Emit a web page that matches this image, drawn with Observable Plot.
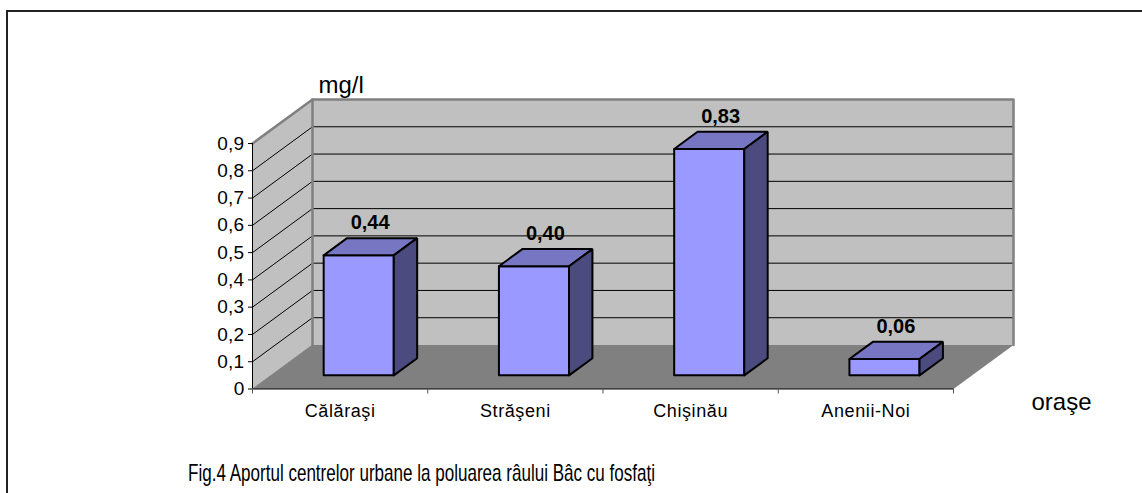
<!DOCTYPE html>
<html>
<head>
<meta charset="utf-8">
<script src="https://cdn.jsdelivr.net/npm/d3@7"></script>
<script src="https://cdn.jsdelivr.net/npm/@observablehq/plot@0.6"></script>
<style>
  html, body { margin: 0; padding: 0; background: #fff; width: 1142px; height: 493px; overflow: hidden; }
  #frame { position: absolute; left: 6px; top: 10px; width: 1200px; height: 600px; border-left: 2px solid #222; border-top: 2px solid #222; }
  #chart { position: absolute; left: 0; top: 0; }
  #chart g[font-size="18"] text { letter-spacing: 0.6px; }
  #chart g[font-size="19"] text { letter-spacing: 0.3px; }
  #caption { position: absolute; left: 188px; top: 459px; font-family: "Liberation Sans", Arial, sans-serif; font-size: 24px; color: #000; white-space: nowrap; transform-origin: left top; transform: scaleX(0.71); }
</style>
</head>
<body>
<div id="frame"></div>
<div id="chart"></div>
<div id="caption">Fig.4 Aportul centrelor urbane la poluarea râului Bâc cu fosfaţi</div>
<script>
// ---- data ----
const categories = ["Călăraşi", "Străşeni", "Chişinău", "Anenii-Noi"];
const values = [0.44, 0.40, 0.83, 0.06];
const valueLabels = ["0,44", "0,40", "0,83", "0,06"];
const yTicks = [0, 0.1, 0.2, 0.3, 0.4, 0.5, 0.6, 0.7, 0.8, 0.9];
const yTickLabels = ["0", "0,1", "0,2", "0,3", "0,4", "0,5", "0,6", "0,7", "0,8", "0,9"];
const yUnit = "mg/l";
const xTitle = "oraşe";

// ---- 3D geometry (in data units) ----
const W = 1142, H = 445;
const mL = 252, mR = W - 953, mT = 143, mB = H - 388.5;
const n = categories.length;
const yMax = 0.9;
const DX = 60 / (W - mL - mR) * n;           // depth offset in category units
const DY = 44 / (H - mT - mB) * yMax;         // depth offset in value units
const t0 = 0.31, t1 = 0.70;                   // bar depth span (fraction)
const b0 = 0.3, b1 = 0.7;                     // bar width span within band

const poly = (id, pts) => pts.concat([pts[0]]).map(([x, y]) => ({id, x, y}));

const sideWall = poly("side", [[0, 0], [DX, DY], [DX, yMax + DY], [0, yMax]]);
const backWall = poly("back", [[DX, DY], [n + DX, DY], [n + DX, yMax + DY], [DX, yMax + DY]]);
const floor = poly("floor", [[0, 0], [n, 0], [n + DX, DY], [DX, DY]]);

const gridLines = yTicks.filter(v => v > 0 && v < yMax).flatMap(v =>
  [[0, v], [DX, v + DY], [n + DX, v + DY]].map(([x, y]) => ({id: v, x, y})));

const fronts = [], tops = [], sides = [];
values.forEach((v, i) => {
  const xa = i + b0, xb = i + b1;
  const ox0 = t0 * DX, oy0 = t0 * DY, ox1 = t1 * DX, oy1 = t1 * DY;
  fronts.push(...poly(i, [[xa + ox0, oy0], [xb + ox0, oy0], [xb + ox0, v + oy0], [xa + ox0, v + oy0]]));
  tops.push(...poly(i, [[xa + ox0, v + oy0], [xb + ox0, v + oy0], [xb + ox1, v + oy1], [xa + ox1, v + oy1]]));
  sides.push(...poly(i, [[xb + ox0, oy0], [xb + ox1, oy1], [xb + ox1, v + oy1], [xb + ox0, v + oy0]]));
});

const labels = values.map((v, i) => ({x: i + 0.5 + 0.5 * DX, y: v + 0.5 * DY, text: valueLabels[i]}));
const catLabels = categories.map((c, i) => ({x: i + 0.5, text: c}));
const tickLabels = yTicks.map((v, i) => ({y: v, text: yTickLabels[i]}));

const font = "Liberation Sans, Arial, sans-serif";

const chart = Plot.plot({
  width: W, height: H,
  marginLeft: mL, marginRight: mR, marginTop: mT, marginBottom: mB,
  style: {fontFamily: font, fontSize: "16px", background: "transparent", color: "#000", overflow: "visible"},
  x: {domain: [0, n], axis: null},
  y: {domain: [0, yMax], axis: null},
  marks: [
    Plot.line(sideWall, {x: "x", y: "y", z: "id", fill: "#c0c0c0", stroke: "none"}),
    Plot.line(backWall, {x: "x", y: "y", z: "id", fill: "#c0c0c0", stroke: "none"}),
    Plot.line(floor, {x: "x", y: "y", z: "id", fill: "#808080", stroke: "none"}),
    Plot.line(gridLines, {x: "x", y: "y", z: "id", stroke: "#000", strokeWidth: 1}),
    // gray frame edges of the walls
    Plot.line([{x: 0, y: yMax}, {x: DX, y: yMax + DY}, {x: n + DX, y: yMax + DY}, {x: n + DX, y: DY}],
      {x: "x", y: "y", stroke: "#808080", strokeWidth: 2.5}),
    Plot.line([{x: DX, y: yMax + DY}, {x: DX, y: DY}], {x: "x", y: "y", stroke: "#808080", strokeWidth: 2.5}),
    Plot.line([{x: 0, y: 0}, {x: DX, y: DY}], {x: "x", y: "y", stroke: "#808080", strokeWidth: 1}),
    // bars
    Plot.line(fronts, {x: "x", y: "y", z: "id", fill: "#9999ff", stroke: "#000", strokeWidth: 2, strokeLinejoin: "miter"}),
    Plot.line(tops, {x: "x", y: "y", z: "id", fill: "#7676c2", stroke: "#000", strokeWidth: 2, strokeLinejoin: "miter"}),
    Plot.line(sides, {x: "x", y: "y", z: "id", fill: "#4b4b7f", stroke: "#000", strokeWidth: 2, strokeLinejoin: "miter"}),
    // value labels
    Plot.text(labels, {x: "x", y: "y", text: "text", dy: -24, fontWeight: "bold", fontSize: 20}),
    // axes
    Plot.ruleX([0], {y1: 0, y2: yMax, stroke: "#000", strokeWidth: 1}),
    Plot.ruleY([0], {x1: 0, x2: n, stroke: "#000", strokeWidth: 1}),
    Plot.axisY({ticks: yTicks, tickFormat: () => "", tickSize: 4, stroke: "#000", label: null}),
    Plot.text(tickLabels, {x: 0, y: "y", text: "text", dx: -8, textAnchor: "end", fontSize: 19}),
    Plot.axisX({ticks: d3.range(n + 1), tickFormat: () => "", tickSize: 5, stroke: "#555", anchor: "bottom", label: null}),
    Plot.text(catLabels, {x: "x", y: 0, text: "text", dy: 22, fontSize: 18}),
    Plot.text([yUnit], {x: DX, y: yMax + DY, text: d => d, dx: 6, dy: -14, textAnchor: "start", fontSize: 24}),
    Plot.text([xTitle], {x: n, y: 0, text: d => d, dx: 108, dy: 13, fontSize: 24})
  ]
});
document.getElementById("chart").appendChild(chart);
</script>
</body>
</html>
